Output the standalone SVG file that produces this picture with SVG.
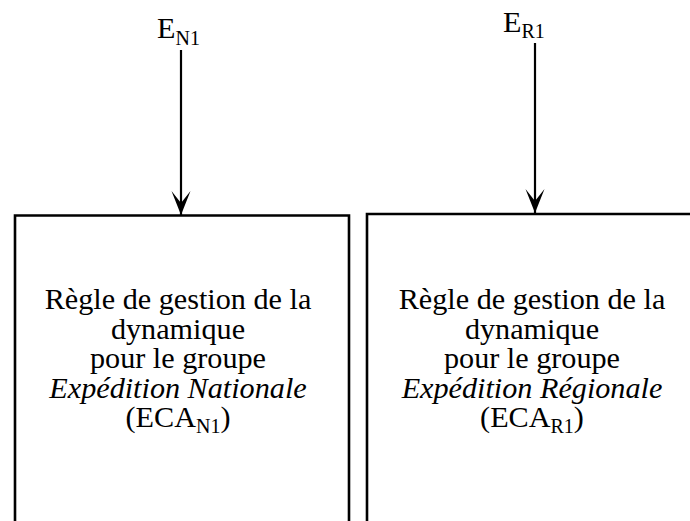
<svg xmlns="http://www.w3.org/2000/svg" width="690" height="521" viewBox="0 0 690 521">
  <style>
    .box { fill: #ffffff; stroke: #000000; stroke-width: 2.6; }
    .conn { stroke: #000000; stroke-width: 2.2; fill: none; }
    .t { font-family: "Liberation Serif", "Times New Roman", serif; font-size: 30.2px; fill: #000000; text-anchor: middle; }
    .lbl { font-family: "Liberation Serif", "Times New Roman", serif; font-size: 30.2px; fill: #000000; }
    .sub { font-size: 20px; }
    .it { font-style: italic; }
  </style>
  <defs>
    <marker id="arrow" markerUnits="userSpaceOnUse" viewBox="-25 -11 26 22" refX="0" refY="0" markerWidth="26" markerHeight="22" orient="auto">
      <path d="M0,0 L-24,-9.5 L-12,0 L-24,9.5 Z" fill="#000000"/>
    </marker>
  </defs>
  <rect width="690" height="521" fill="#ffffff"/>

  <g id="node-ecan1">
    <path class="box" d="M15,530 L15,215.5 L349,215.5 L349,530"/>
    <text class="t" x="178" y="309">Règle de gestion de la</text>
    <text class="t" x="178" y="338.5">dynamique</text>
    <text class="t" x="178" y="368">pour le groupe</text>
    <text class="t it" x="178" y="397.5">Expédition Nationale</text>
    <text class="t" x="178" y="427">(ECA<tspan class="sub" dy="6">N1</tspan><tspan dy="-6">)</tspan></text>
  </g>

  <g id="node-ecar1">
    <path class="box" d="M367,530 L367,214 L700,214"/>
    <text class="t" x="532" y="309">Règle de gestion de la</text>
    <text class="t" x="532" y="338.5">dynamique</text>
    <text class="t" x="532" y="368">pour le groupe</text>
    <text class="t it" x="532" y="397.5">Expédition Régionale</text>
    <text class="t" x="532" y="427">(ECA<tspan class="sub" dy="6">R1</tspan><tspan dy="-6">)</tspan></text>
  </g>

  <g id="label-en1">
    <text class="lbl" x="157" y="38">E<tspan class="sub" dy="7">N1</tspan></text>
  </g>
  <g id="label-er1">
    <text class="lbl" x="503" y="32">E<tspan class="sub" dy="6">R1</tspan></text>
  </g>

  <g id="connectors">
    <line class="conn" x1="181" y1="50" x2="181" y2="215" marker-end="url(#arrow)"/>
    <line class="conn" x1="535" y1="43" x2="535" y2="213" marker-end="url(#arrow)"/>
  </g>
</svg>
